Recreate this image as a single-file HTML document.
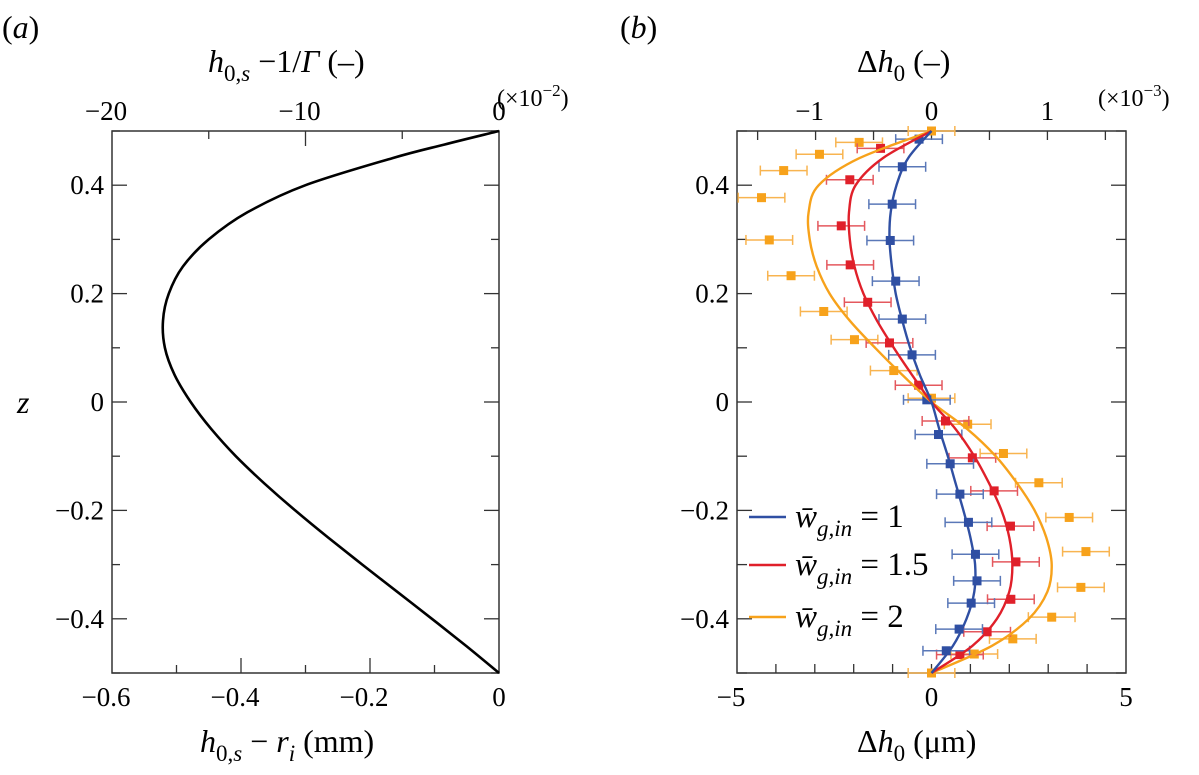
<!DOCTYPE html>
<html><head><meta charset="utf-8"><style>
html,body{margin:0;padding:0;background:#fff;}
svg{display:block;}
svg text, svg tspan{font-family:"Liberation Serif","DejaVu Serif",serif;}
</style></head><body>
<svg id="fig" width="1199" height="775" viewBox="0 0 1199 775" xmlns="http://www.w3.org/2000/svg">
<g id="pa"></g>
<g id="pb"></g>
<g fill="#000">
<text x="2" y="38" font-size="32">(<tspan font-style="italic">a</tspan>)</text>
<text x="620" y="38" font-size="32">(<tspan font-style="italic">b</tspan>)</text>
<text x="208" y="72" font-size="32"><tspan font-style="italic">h</tspan><tspan font-size="23" dy="9">0,<tspan font-style="italic">s</tspan></tspan><tspan dy="-9"> −1/</tspan><tspan font-style="italic">Γ</tspan><tspan> (–)</tspan></text>
<text x="497" y="106" font-size="24">(×10<tspan font-size="17" dy="-10">−2</tspan><tspan dy="10">)</tspan></text>
<text x="17" y="413" font-size="32" font-style="italic">z</text>
<text x="200" y="752" font-size="32"><tspan font-style="italic">h</tspan><tspan font-size="23" dy="9">0,<tspan font-style="italic">s</tspan></tspan><tspan dy="-9"> − </tspan><tspan font-style="italic">r</tspan><tspan font-size="23" dy="9" font-style="italic">i</tspan><tspan dy="-9"> (mm)</tspan></text>
<text x="857" y="72" font-size="32">Δ<tspan font-style="italic">h</tspan><tspan font-size="23" dy="9">0</tspan><tspan dy="-9"> (–)</tspan></text>
<text x="1098" y="106" font-size="24">(×10<tspan font-size="17" dy="-10">−3</tspan><tspan dy="10">)</tspan></text>
<text x="857" y="752" font-size="32">Δ<tspan font-style="italic">h</tspan><tspan font-size="23" dy="9">0</tspan><tspan dy="-9"> (μm)</tspan></text>
</g>
<g>
<line x1="749" x2="786" y1="517" y2="517" stroke="#2f4fa3" stroke-width="2.4"/>
<text x="795" y="527" font-size="33"><tspan font-style="italic">w̄</tspan><tspan font-size="23" dy="9" font-style="italic">g,in</tspan><tspan dy="-9"> = 1</tspan></text>
<line x1="749" x2="786" y1="565" y2="565" stroke="#e0202a" stroke-width="2.4"/>
<text x="795" y="575" font-size="33"><tspan font-style="italic">w̄</tspan><tspan font-size="23" dy="9" font-style="italic">g,in</tspan><tspan dy="-9"> = 1.5</tspan></text>
<line x1="749" x2="786" y1="617" y2="617" stroke="#f7a21b" stroke-width="2.4"/>
<text x="795" y="627" font-size="33"><tspan font-style="italic">w̄</tspan><tspan font-size="23" dy="9" font-style="italic">g,in</tspan><tspan dy="-9"> = 2</tspan></text>
</g>
</svg>
<script>
// Panel (a) data
const aZ = [0.5,0.475,0.45,0.4,0.35,0.3,0.25,0.2,0.15,0.1,0.05,0,-0.05,-0.1,-0.15,-0.2,-0.25,-0.3,-0.35,-0.4,-0.45,-0.5];
const aH = [0,-0.085,-0.165,-0.3,-0.39,-0.45,-0.49,-0.512,-0.521,-0.518,-0.503,-0.478,-0.446,-0.408,-0.364,-0.316,-0.265,-0.212,-0.158,-0.104,-0.051,0];
const aXTicks = [-0.6,-0.4,-0.2,0];
const aXTickLabels = ["\u22120.6","\u22120.4","\u22120.2","0"];
const aTopTickLabels = ["\u221220","\u221210","0"];
const zTicks = [0.4,0.2,0,-0.2,-0.4];
const zTickLabels = ["0.4","0.2","0","\u22120.2","\u22120.4"];
// Panel (b) data
const curveZ = [0.5,0.45,0.4,0.35,0.3,0.25,0.2,0.15,0.1,0.05,0,-0.05,-0.1,-0.15,-0.2,-0.25,-0.3,-0.35,-0.4,-0.45,-0.5];
const curveBlue = [0,-0.6,-0.9,-1.05,-1.08,-1.02,-0.92,-0.75,-0.55,-0.3,0,0.2,0.42,0.62,0.82,1.0,1.12,1.1,0.9,0.55,0];
const curveRed = [0,-1.25,-1.95,-2.12,-2.1,-1.98,-1.75,-1.4,-0.97,-0.5,0,0.62,1.1,1.48,1.8,2.0,2.08,2.0,1.68,1.05,0];
const curveOrange = [0,-1.85,-2.9,-3.16,-3.13,-2.95,-2.62,-2.1,-1.45,-0.75,0,0.92,1.65,2.2,2.65,2.95,3.09,2.98,2.5,1.55,0];
const blueZ = [0.485,0.434,0.365,0.298,0.223,0.153,0.087,0.004,-0.06,-0.114,-0.17,-0.222,-0.281,-0.33,-0.371,-0.419,-0.459];
const blueX = [-0.32,-0.75,-1.01,-1.06,-0.92,-0.75,-0.5,-0.12,0.18,0.48,0.73,0.95,1.13,1.17,1.02,0.71,0.38];
const redZ = [0.468,0.41,0.325,0.253,0.184,0.109,0.031,-0.035,-0.103,-0.164,-0.229,-0.295,-0.364,-0.424,-0.466];
const redX = [-1.31,-2.1,-2.32,-2.09,-1.64,-1.08,-0.33,0.36,1.05,1.61,2.03,2.17,2.04,1.43,0.73];
const orangeZ = [0.5,0.479,0.457,0.427,0.377,0.299,0.233,0.167,0.115,0.058,0.007,-0.041,-0.095,-0.149,-0.213,-0.276,-0.342,-0.397,-0.437,-0.465,-0.5];
const orangeX = [0,-1.86,-2.88,-3.8,-4.37,-4.17,-3.61,-2.77,-1.98,-0.97,0,0.93,1.85,2.76,3.54,3.97,3.84,3.09,2.09,1.1,0];
const errHalf = 0.6;
const bXTicks = [-5,0,5];
const bXTickLabels = ["\u22125","0","5"];
const bTopTicks = [-1,0,1];
const bTopTickLabels = ["\u22121","0","1"];

const NS="http://www.w3.org/2000/svg";
function mk(parent,tag,attrs,text){const e=document.createElementNS(NS,tag);for(const k in attrs)e.setAttribute(k,attrs[k]);if(text!==undefined)e.textContent=text;parent.appendChild(e);return e;}
function smooth(pts){let d="M"+pts[0][0].toFixed(1)+","+pts[0][1].toFixed(1);for(let i=0;i<pts.length-1;i++){const p0=pts[Math.max(0,i-1)],p1=pts[i],p2=pts[i+1],p3=pts[Math.min(pts.length-1,i+2)];const c1=[p1[0]+(p2[0]-p0[0])/6,p1[1]+(p2[1]-p0[1])/6],c2=[p2[0]-(p3[0]-p1[0])/6,p2[1]-(p3[1]-p1[1])/6];d+=" C"+c1[0].toFixed(1)+","+c1[1].toFixed(1)+" "+c2[0].toFixed(1)+","+c2[1].toFixed(1)+" "+p2[0].toFixed(1)+","+p2[1].toFixed(1);}return d;}

const T=131,B=673;
const yz=z=>T+(0.5-z)*(B-T);

// ---------- Panel a ----------
const pa=document.getElementById('pa');
const aL=112,aR=499;
const xa=h=>aL+(h+0.6)/0.6*(aR-aL);
let r=mk(pa,'rect',{x:aL,y:T,width:aR-aL,height:B-T,fill:'none',stroke:'#333','stroke-width':1.5});

for(let k=-5;k<=5;k++){const v=k/10;const y=yz(v);const L=(k%2===0)?15:8;
 mk(pa,'line',{x1:aL,x2:aL+L,y1:y,y2:y,stroke:'#333','stroke-width':1.3});mk(pa,'line',{x1:aR,x2:aR-L,y1:y,y2:y,stroke:'#333','stroke-width':1.3});}
for(let k=-5;k<0;k++){const x=xa(k/10);const L=(k%2===0)?15:8;
 mk(pa,'line',{x1:x,x2:x,y1:B,y2:B-L,stroke:'#333','stroke-width':1.3});}
for(let k=1;k<4;k++){const x=aL+k*(aR-aL)/4;const L=k%2===0?15:8;mk(pa,'line',{x1:x,x2:x,y1:T,y2:T+L,stroke:'#333','stroke-width':1.3});}
zTicks.forEach((z,i)=>{const t=mk(pa,'text',{x:aL-8,y:yz(z)+9,'font-size':27,'text-anchor':'end'},zTickLabels[i]);});
aXTicks.forEach((h,i)=>{const t=mk(pa,'text',{x:xa(h)-(i<3?6:0),y:706,'font-size':27,'text-anchor':'middle'},aXTickLabels[i]);});
aTopTickLabels.forEach((s,i)=>{const t=mk(pa,'text',{x:aL+i*(aR-aL)/2-(i<2?6:0),y:120,'font-size':27,'text-anchor':'middle'},s);});
let cA=mk(pa,'path',{d:smooth(aZ.map((z,i)=>[xa(aH[i]),yz(z)])),fill:'none',stroke:'#000','stroke-width':2.6});


// ---------- Panel b ----------
const pb=document.getElementById('pb');
const bL=737,bR=1126;
const xb=u=>bL+(u+5)/10*(bR-bL);
r=mk(pb,'rect',{x:bL,y:T,width:bR-bL,height:B-T,fill:'none',stroke:'#333','stroke-width':1.5});

for(let k=-5;k<=5;k++){const y=yz(k/10);const L=(k%2===0)?15:10;
 mk(pb,'line',{x1:bL,x2:bL+L,y1:y,y2:y,stroke:'#333','stroke-width':1.3});mk(pb,'line',{x1:bR,x2:bR-L,y1:y,y2:y,stroke:'#333','stroke-width':1.3});}
for(let u=-4;u<=4;u++){const x=xb(u);mk(pb,'line',{x1:x,x2:x,y1:B,y2:B-9,stroke:'#333','stroke-width':1.3});}
const k3=(bR-bL)/10*2.98;
const x0b=xb(0);
for(let v=-1.5;v<=1.5;v+=0.5){const x=x0b+v*k3;if(x<bL+2||x>bR-2)continue;mk(pb,'line',{x1:x,x2:x,y1:T,y2:T+9,stroke:'#333','stroke-width':1.3});}
zTicks.forEach((z,i)=>{const t=mk(pb,'text',{x:bL-8,y:yz(z)+9,'font-size':27,'text-anchor':'end'},zTickLabels[i]);});
bXTicks.forEach((u,i)=>{const t=mk(pb,'text',{x:xb(u)-(u<0?6:0),y:706,'font-size':27,'text-anchor':'middle'},bXTickLabels[i]);});
bTopTicks.forEach((v,i)=>{const t=mk(pb,'text',{x:x0b+v*k3-(v<0?6:0),y:120,'font-size':27,'text-anchor':'middle'},bTopTickLabels[i]);});

const series=[
 {name:'blue',col:'#2f4fa3',ecol:'#5a78b8',cz:curveZ,cx:curveBlue,pz:blueZ,px:blueX},
 {name:'red',col:'#e0202a',ecol:'#e4585e',cz:curveZ,cx:curveRed,pz:redZ,px:redX},
 {name:'orange',col:'#f7a21b',ecol:'#f8b450',cz:curveZ,cx:curveOrange,pz:orangeZ,px:orangeX}];
series.slice().reverse().forEach(s=>{
 const g=mk(pb,'g',{});
 
 
 s.pz.forEach((z,i)=>{const x=xb(s.px[i]),y=yz(z),x1=xb(s.px[i]-errHalf),x2=xb(s.px[i]+errHalf);
  mk(g,'line',{x1:x1,x2:x2,y1:y,y2:y,stroke:s.ecol,'stroke-width':1.5});
  mk(g,'line',{x1:x1,x2:x1,y1:y-5,y2:y+5,stroke:s.ecol,'stroke-width':1.5});
  mk(g,'line',{x1:x2,x2:x2,y1:y-5,y2:y+5,stroke:s.ecol,'stroke-width':1.5});
  const m=mk(g,'rect',{x:x-4.5,y:y-4.5,width:9,height:9,fill:s.col});
  
  });
});
series.slice().reverse().forEach(s=>{
 const p=mk(pb,'path',{d:smooth(s.cz.map((z,i)=>[xb(s.cx[i]),yz(z)])),fill:'none',stroke:s.col,'stroke-width':2.4});
 
 
});
</script>
</body></html>
